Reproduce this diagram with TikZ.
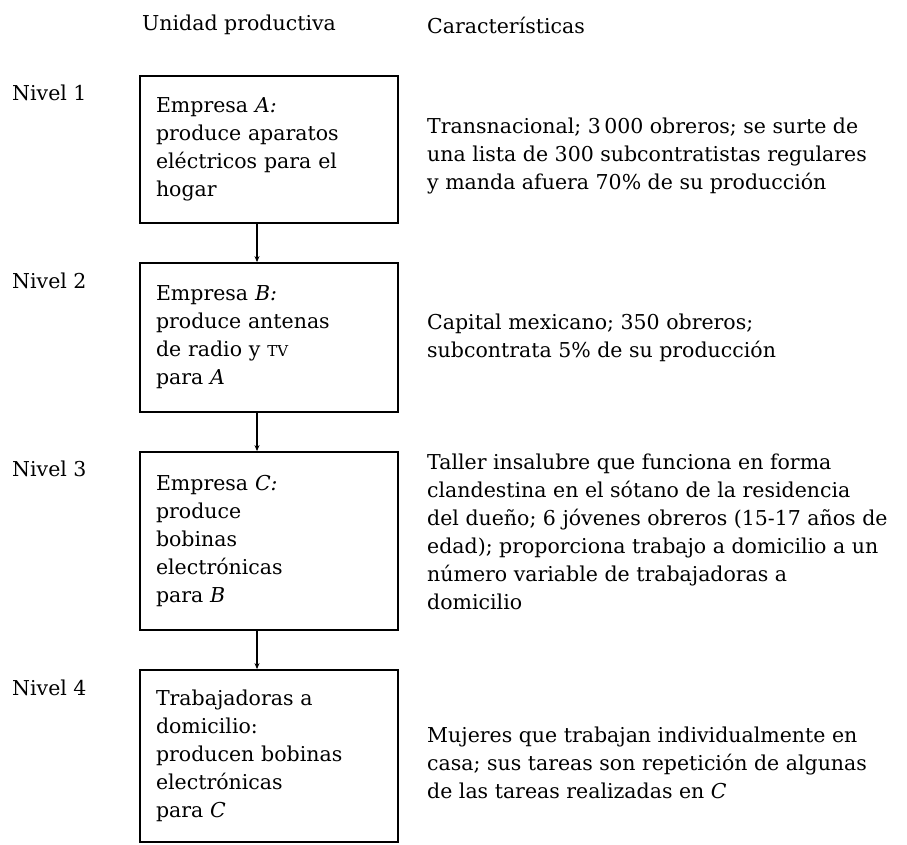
\documentclass[tikz,border=0pt]{standalone}
\usepackage{fontspec}
\setmainfont{DejaVu Serif}
\usepackage{tikz}
\usetikzlibrary{arrows.meta, positioning}

\newcommand{\smtv}{{\fontsize{15}{28}\selectfont TV}}

\begin{document}
\begin{tikzpicture}[x=1pt, y=-1pt,
      box/.style={draw, line width=1.8pt, minimum width=258pt,
                  text width=226pt, inner xsep=16pt, align=left,
                  font=\fontsize{20.5}{28}\selectfont},
      lvl/.style={anchor=west, inner sep=0pt, font=\fontsize{20.5}{28}\selectfont},
      note/.style={anchor=west, align=left, inner sep=0pt,
                   font=\fontsize{20.5}{28}\selectfont},
      arr/.style={-{Stealth[length=6pt, width=5pt]}, line width=2pt}
    ]
      \useasboundingbox (0,0) rectangle (907,844);
      \node[lvl] (hdU) at (142,25) {Unidad productiva};
      \node[note] (hdC) at (427,25) {Características};

      \node[lvl] (n1) at (12,93) {Nivel 1};
      \node[lvl] (n2) at (12,281) {Nivel 2};
      \node[lvl] (n3) at (12,469) {Nivel 3};
      \node[lvl] (n4) at (12,688) {Nivel 4};

      \node[box, minimum height=147pt] (empA) at (269,149.5)
        {Empresa \textit{A:}\\produce aparatos\\eléctricos para el\\hogar};
      \node[box, minimum height=149pt] (empB) at (269,337.5)
        {Empresa \textit{B:}\\produce antenas\\de radio y \smtv\\para \textit{A}};
      \node[box, minimum height=178pt] (empC) at (269,541)
        {Empresa \textit{C:}\\produce\\bobinas\\electrónicas\\para \textit{B}};
      \node[box, minimum height=172pt] (trab) at (269,756)
        {Trabajadoras a\\domicilio:\\producen bobinas\\electrónicas\\para \textit{C}};

      \node[note] (cA) at (427,156)
        {Transnacional; 3\,000 obreros; se surte de\\una lista de 300 subcontratistas regulares\\y manda afuera 70\% de su producción};
      \node[note] (cB) at (427,338)
        {Capital mexicano; 350 obreros;\\subcontrata 5\% de su producción};
      \node[note] (cC) at (427,532)
        {Taller insalubre que funciona en forma\\clandestina en el sótano de la residencia\\del dueño; 6 jóvenes obreros (15-17 años de\\edad); proporciona trabajo a domicilio a un\\número variable de trabajadoras a\\domicilio};
      \node[note] (cD) at (427,763)
        {Mujeres que trabajan individualmente en\\casa; sus tareas son repetición de algunas\\de las tareas realizadas en \textit{C}};

      \draw[arr] ([xshift=-12pt]empA.south) -- ([xshift=-12pt]empB.north);
      \draw[arr] ([xshift=-12pt]empB.south) -- ([xshift=-12pt]empC.north);
      \draw[arr] ([xshift=-12pt]empC.south) -- ([xshift=-12pt]trab.north);
    \end{tikzpicture}
\end{document}
